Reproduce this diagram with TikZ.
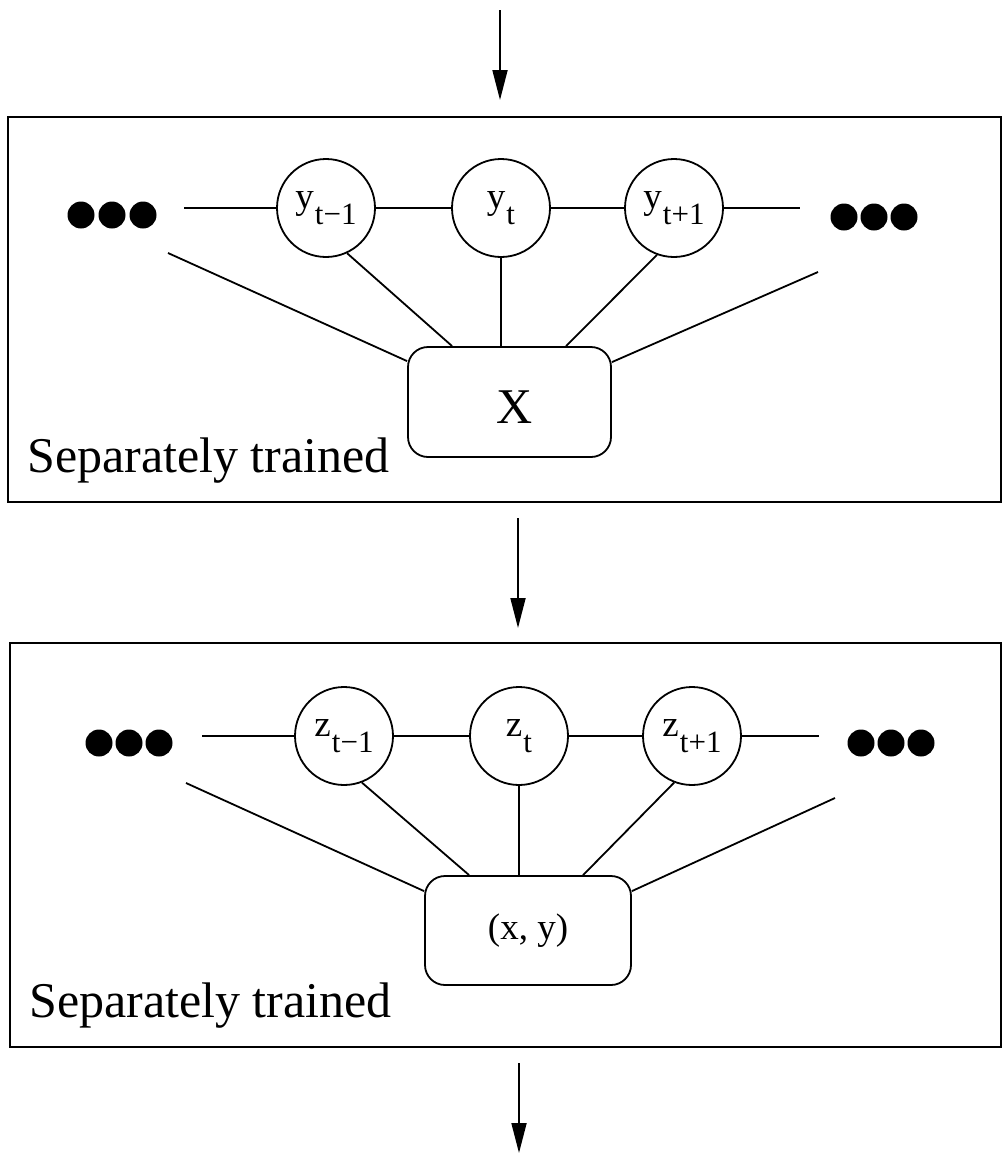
\documentclass[tikz,border=0pt]{standalone}
\usepackage{fontspec}
\setmainfont{Liberation Serif}
\usetikzlibrary{arrows.meta,calc}

% variable name with a lowered, slightly smaller index
\newcommand\varname[2]{\fontsize{37}{37}\selectfont #1\kern1pt\raisebox{-16pt}{\fontsize{31}{31}\selectfont #2}}

\begin{document}
\begin{tikzpicture}[x=1pt,y=-1pt,
  panel/.style={draw, line width=2.2pt, inner sep=0pt},
  var/.style={circle, draw, line width=1.8pt, minimum size=98pt, inner sep=0pt},
  obs/.style={draw, rounded corners=20pt, line width=1.8pt, inner sep=0pt},
  link/.style={line width=1.8pt},
  dot/.style={circle, fill, inner sep=0pt, minimum size=27pt},
  flow/.style={line width=1.8pt, -{Triangle[length=30pt,width=15pt]}},
  caption/.style={font=\fontsize{50}{50}\selectfont, inner sep=0pt, anchor=base west},
]
\useasboundingbox (0,0) rectangle (1004,1154);

% ---------------- upper panel ----------------
\node[panel, minimum width=993pt, minimum height=385pt] (ptop) at (504.5,309.5) {};

\node[var] (ym1) at (326,208) {\varname{y}{t−1}};
\node[var] (yt)  at (501,208) {\varname{y}{t}};
\node[var] (yp1) at (674,208) {\varname{y}{t+1}};

\node[obs, minimum width=203pt, minimum height=110pt] (X) at (509.5,402) {};
\node[font=\fontsize{50}{50}\selectfont, inner sep=0pt] (xlabel) at (515,407) {X};

\foreach \i/\x in {1/81,2/112,3/143} \node[dot] (ydl\i) at (\x,215) {};
\foreach \i/\x in {1/844,2/874,3/904} \node[dot] (ydr\i) at (\x,217) {};

\coordinate (yhl) at (184,208);
\coordinate (yhr) at (800,208);
\draw[link] (yhl) -- (ym1);
\draw[link] (ym1) -- (yt);
\draw[link] (yt) -- (yp1);
\draw[link] (yp1) -- (yhr);

\coordinate (yol) at (168,253);
\coordinate (yor) at (818,272);
\draw[link] (yol) -- ($(X.north west)+(0,15)$);
\draw[link] (ym1.-65) -- ($(X.north west)+(45,0)$);
\draw[link] (yt.south) -- (yt.south |- X.north);
\draw[link] (yp1.-110) -- ($(X.north west)+(159,0)$);
\draw[link] (yor) -- ($(X.north east)+(0,16)$);

\node[caption] (cap1) at (27,472) {Separately trained};

% ---------------- lower panel ----------------
\node[panel, minimum width=991pt, minimum height=404pt] (pbot) at (505.5,845) {};

\node[var] (zm1) at (344,736) {\varname{z}{t−1}};
\node[var] (zt)  at (519,736) {\varname{z}{t}};
\node[var] (zp1) at (692,736) {\varname{z}{t+1}};

\node[obs, minimum width=206pt, minimum height=109pt, font=\fontsize{37}{37}\selectfont] (Z) at (528,930.5) {(x, y)};

\foreach \i/\x in {1/99,2/129,3/159} \node[dot] (zdl\i) at (\x,743) {};
\foreach \i/\x in {1/861,2/891,3/921} \node[dot] (zdr\i) at (\x,743) {};

\coordinate (zhl) at (202,736);
\coordinate (zhr) at (819,736);
\draw[link] (zhl) -- (zm1);
\draw[link] (zm1) -- (zt);
\draw[link] (zt) -- (zp1);
\draw[link] (zp1) -- (zhr);

\coordinate (zol) at (186,783);
\coordinate (zor) at (835,798);
\draw[link] (zol) -- ($(Z.north west)+(0,16)$);
\draw[link] (zm1.-69) -- ($(Z.north west)+(45,0)$);
\draw[link] (zt.south) -- (zt.south |- Z.north);
\draw[link] (zp1.-111) -- ($(Z.north west)+(159,0)$);
\draw[link] (zor) -- ($(Z.north east)+(0,16)$);

\node[caption] (cap2) at (29,1017) {Separately trained};

% ---------------- flow arrows ----------------
\coordinate (a1s) at (500,10);
\coordinate (a1e) at (500,100);
\coordinate (a2s) at (518,518);
\coordinate (a2e) at (518,628);
\coordinate (a3s) at (519,1063);
\coordinate (a3e) at (519,1153);
\draw[flow] (a1s) -- (a1e);
\draw[flow] (a2s) -- (a2e);
\draw[flow] (a3s) -- (a3e);
\end{tikzpicture}
\end{document}
